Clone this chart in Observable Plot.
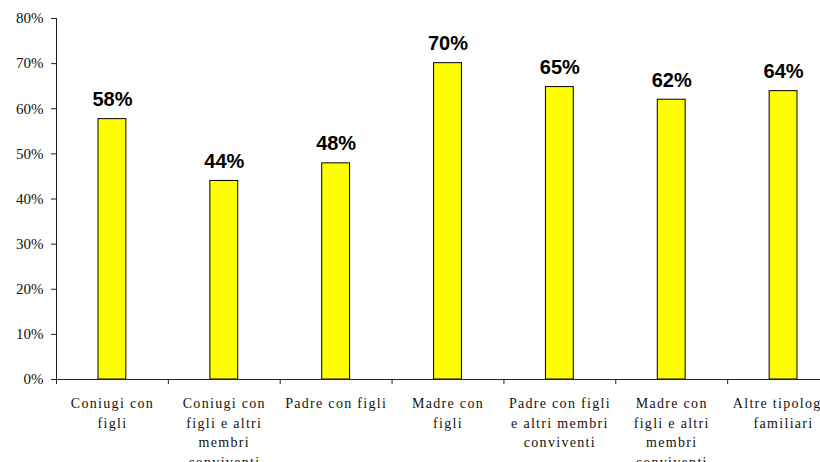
<!DOCTYPE html>
<html>
<head>
<meta charset="utf-8">
<script src="https://cdn.jsdelivr.net/npm/d3@7"></script>
<script src="https://cdn.jsdelivr.net/npm/@observablehq/plot@0.6"></script>
<style>
  html, body { margin: 0; padding: 0; background: #fff; overflow: hidden; }
  #chart { width: 820px; height: 462px; overflow: hidden; }
  #chart svg { max-width: none !important; }
  .xlab text, .ylab text { font-family: "Liberation Serif", "Times New Roman", serif !important; }
  .xlab text { letter-spacing: 1.3px; }
  .vlab text { font-family: "Liberation Sans", Arial, sans-serif !important; }
</style>
</head>
<body>
<div id="chart"></div>
<script>
const categories = [
  "Coniugi con\nfigli",
  "Coniugi con\nfigli e altri\nmembri\nconviventi",
  "Padre con figli",
  "Madre con\nfigli",
  "Padre con figli\ne altri membri\nconviventi",
  "Madre con\nfigli e altri\nmembri\nconviventi",
  "Altre tipologie\nfamiliari"
];
const values = [57.7, 44.0, 47.9, 70.1, 64.8, 62.0, 63.9];
const valueLabels = ["58%", "44%", "48%", "70%", "65%", "62%", "64%"];
const yTicks = [0, 10, 20, 30, 40, 50, 60, 70, 80];

const rows = categories.map((c, i) => ({ i, c, v: values[i], lab: valueLabels[i] }));
const xBounds = d3.range(categories.length + 1);

const chart = Plot.plot({
  width: 840,
  height: 462,
  marginLeft: 56,
  marginRight: 1,
  marginTop: 18,
  marginBottom: 83,
  style: { background: "#fff", color: "#111", maxWidth: "none", fontFamily: "'Liberation Serif', serif" },
  x: { domain: [0, categories.length], axis: null },
  y: { domain: [0, 80], axis: null },
  marks: [
    Plot.rectY(rows, {
      x1: d => d.i, x2: d => d.i + 1, y: "v",
      insetLeft: 42, insetRight: 42,
      fill: "#ffff00", stroke: "#000", strokeWidth: 1
    }),
    Plot.text(rows, {
      x: d => d.i + 0.5, y: "v", text: "lab",
      lineAnchor: "bottom", dy: -13,
      fontWeight: "bold", fontSize: 20, fontFamily: "Liberation Sans", fill: "#000",
      className: "vlab"
    }),
    Plot.text(rows, {
      x: d => d.i + 0.5, text: "c",
      frameAnchor: "bottom", lineAnchor: "top", dy: 15,
      lineHeight: 1.39,
      fontSize: 14, fontFamily: "Liberation Serif", fill: "#111",
      className: "xlab"
    }),
    Plot.axisY({
      ticks: yTicks, tickFormat: d => d + "%", label: null,
      tickSize: 5, tickPadding: 8,
      fontSize: 15, fontFamily: "Liberation Serif", stroke: "#222",
      className: "ylab"
    }),
    Plot.axisX({
      ticks: xBounds, tickFormat: () => "", label: null, tickSize: 5, stroke: "#222"
    }),
    Plot.ruleY([0], { stroke: "#222" }),
    Plot.ruleX([0], { y1: 0, y2: 80, stroke: "#222" })
  ]
});
document.getElementById("chart").appendChild(chart);
</script>
</body>
</html>
